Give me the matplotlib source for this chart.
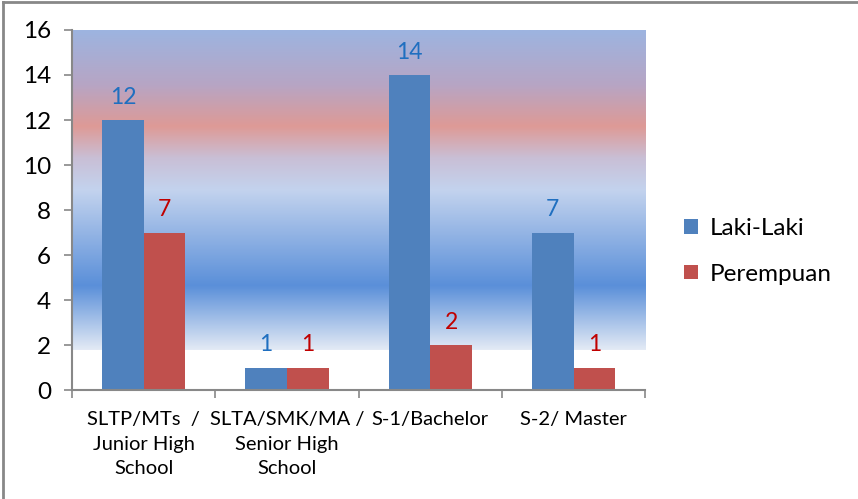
import numpy as np
import matplotlib
matplotlib.use("Agg")
import matplotlib.pyplot as plt
from matplotlib.colors import LinearSegmentedColormap
from matplotlib.lines import Line2D

# data
kategori = ["SLTP/MTs  /\nJunior High\nSchool", "SLTA/SMK/MA /\nSenior High\nSchool",
            "S-1/Bachelor", "S-2/ Master"]
laki = [12, 1, 14, 7]
perempuan = [7, 1, 2, 1]

plt.rcParams['font.family'] = ['Lato', 'DejaVu Sans']

fig = plt.figure(figsize=(8.58, 4.99), dpi=100)
ax = fig.add_axes([0.084, 0.218, 0.668, 0.722])

x = np.arange(len(kategori))
w = 0.29

# background gradient (Excel style), from y=1.8 to 16
grad_pos = [0.0, 0.20, 0.50, 0.60, 0.70, 0.83, 1.0]
grad_col = ["#E3EAF5", "#5A8FD9", "#C3D3EE", "#C9BFD6", "#DE9A96", "#B7A5C4", "#9DB4E0"]
cmap = LinearSegmentedColormap.from_list("bg", list(zip(grad_pos, grad_col)))
ax.imshow(np.linspace(0, 1, 256).reshape(-1, 1), cmap=cmap, aspect='auto',
          origin='lower', extent=[-0.5, len(x) - 0.5, 1.8, 16], zorder=0)

ax.bar(x - w / 2, laki, w, color="#4F81BD", label="Laki-Laki", zorder=2)
ax.bar(x + w / 2, perempuan, w, color="#C0504D", label="Perempuan", zorder=2)

for i in range(len(x)):
    ax.text(x[i] - w / 2, laki[i] + 0.55, str(laki[i]), ha='center', va='bottom',
            color="#1F6FC0", fontsize=16.5, zorder=3)
    ax.text(x[i] + w / 2, perempuan[i] + 0.55, str(perempuan[i]), ha='center', va='bottom',
            color="#C00000", fontsize=16.5, zorder=3)

ax.set_xlim(-0.5, len(x) - 0.5)
ax.set_ylim(0, 16)
ax.set_yticks(range(0, 17, 2))
ax.tick_params(axis='y', labelsize=17.5, length=6, width=1.2, color="#888888", pad=9)

# x ticks between categories
ax.set_xticks(np.arange(-0.5, len(x), 1.0))
ax.set_xticklabels([])
ax.set_xticks(x, minor=True)
ax.set_xticklabels(kategori, minor=True, fontsize=14.5, linespacing=1.55)
ax.tick_params(axis='x', which='major', length=6, width=1.2, color="#888888", direction='out')
ax.tick_params(axis='x', which='minor', length=0, pad=15)

for s in ['top', 'right']:
    ax.spines[s].set_visible(False)
for s in ['left', 'bottom']:
    ax.spines[s].set_color("#888888")
    ax.spines[s].set_linewidth(1.5)

ax.legend(loc='center left', bbox_to_anchor=(1.03, 0.385), frameon=False, fontsize=17.5,
          handlelength=0.55, handleheight=0.55, handletextpad=0.5, labelspacing=1.0)

# outer chart border (only top and left visible)
fig.add_artist(Line2D([0.004, 1.0], [0.995, 0.995], color="#888888", lw=2))
fig.add_artist(Line2D([0.004, 0.004], [0.0, 0.995], color="#888888", lw=2))

fig.savefig("out.png", dpi=100)
